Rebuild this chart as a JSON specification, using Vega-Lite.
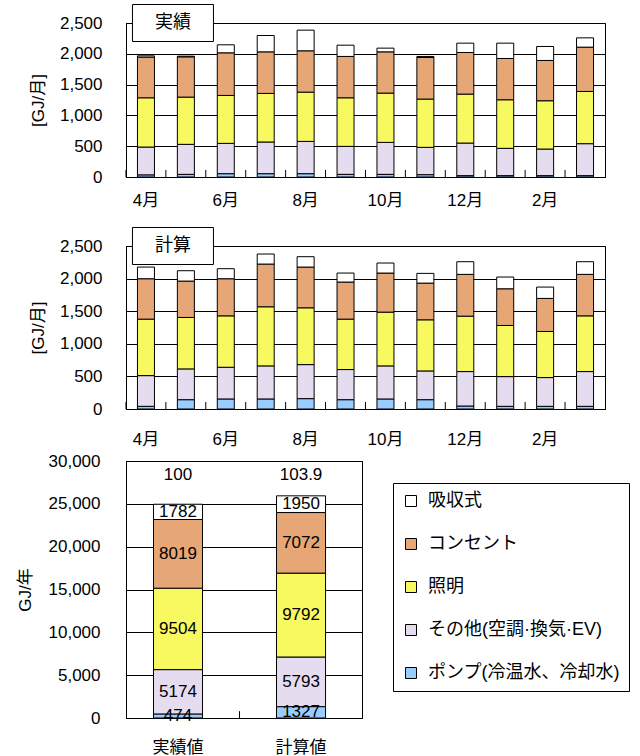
{
  "$schema": "https://vega.github.io/schema/vega-lite/v6.json",
  "padding": {"left": 15, "top": 1, "right": 0, "bottom": 0},
  "spacing": 3,
  "datasets": {
    "jisseki": [
      {"m": "4月", "ポンプ": 35, "その他": 451, "照明": 800, "コンセント": 660, "吸収式": 21},
      {"m": "5月", "ポンプ": 43, "その他": 487, "照明": 767, "コンセント": 654, "吸収式": 11},
      {"m": "6月", "ポンプ": 54, "その他": 492, "照明": 778, "コンセント": 692, "吸収式": 130},
      {"m": "7月", "ポンプ": 54, "その他": 514, "照明": 789, "コンセント": 675, "吸収式": 265},
      {"m": "8月", "ポンプ": 54, "その他": 524, "照明": 800, "コンセント": 671, "吸収式": 335},
      {"m": "9月", "ポンプ": 43, "その他": 454, "照明": 789, "コンセント": 671, "吸収式": 183},
      {"m": "10月", "ポンプ": 43, "その他": 519, "照明": 800, "コンセント": 670, "吸収式": 60},
      {"m": "11月", "ポンプ": 38, "その他": 443, "照明": 784, "コンセント": 675, "吸収式": 17},
      {"m": "12月", "ポンプ": 22, "その他": 529, "照明": 795, "コンセント": 675, "吸収式": 152},
      {"m": "1月", "ポンプ": 22, "その他": 443, "照明": 789, "コンセント": 670, "吸収式": 249},
      {"m": "2月", "ポンプ": 22, "その他": 432, "照明": 784, "コンセント": 654, "吸収式": 227},
      {"m": "3月", "ポンプ": 22, "その他": 519, "照明": 848, "コンセント": 719, "吸収式": 151}
    ],
    "keisan": [
      {"m": "4月", "ポンプ": 41, "その他": 471, "照明": 866, "コンセント": 620, "吸収式": 179},
      {"m": "5月", "ポンプ": 143, "その他": 472, "照明": 789, "コンセント": 558, "吸収式": 159},
      {"m": "6月", "ポンプ": 154, "その他": 486, "照明": 789, "コンセント": 569, "吸収式": 154},
      {"m": "7月", "ポンプ": 154, "その他": 507, "照明": 907, "コンセント": 655, "吸収式": 154},
      {"m": "8月", "ポンプ": 159, "その他": 522, "照明": 871, "コンセント": 625, "吸収式": 159},
      {"m": "9月", "ポンプ": 143, "その他": 462, "照明": 773, "コンセント": 569, "吸収式": 138},
      {"m": "10月", "ポンプ": 154, "その他": 507, "照明": 825, "コンセント": 599, "吸収式": 154},
      {"m": "11月", "ポンプ": 143, "その他": 441, "照明": 784, "コンセント": 563, "吸収式": 149},
      {"m": "12月", "ポンプ": 46, "その他": 528, "照明": 850, "コンセント": 641, "吸収式": 194},
      {"m": "1月", "ポンプ": 41, "その他": 456, "照明": 784, "コンセント": 563, "吸収式": 180},
      {"m": "2月", "ポンプ": 41, "その他": 441, "照明": 707, "コンセント": 507, "吸収式": 174},
      {"m": "3月", "ポンプ": 41, "その他": 533, "照明": 855, "コンセント": 636, "吸収式": 194}
    ],
    "annual": [
      {"g": "実績値", "idx": "100", "ポンプ": 474, "その他": 5174, "照明": 9504, "コンセント": 8019, "吸収式": 1782},
      {"g": "計算値", "idx": "103.9", "ポンプ": 1327, "その他": 5793, "照明": 9792, "コンセント": 7072, "吸収式": 1950}
    ]
  },
  "resolve": {"scale": {"color": "independent"}, "legend": {"color": "independent"}},
  "vconcat": [
    {
      "width": 479,
      "height": 154,
      "layer": [
        {
          "data": {"name": "jisseki"},
          "transform": [
            {"fold": ["ポンプ", "その他", "照明", "コンセント", "吸収式"], "as": ["cat", "v"]},
            {"calculate": "indexof(['ポンプ','その他','照明','コンセント','吸収式'], datum.cat)", "as": "k"}
          ],
          "mark": {"type": "bar", "stroke": "black", "strokeWidth": 1},
          "encoding": {
            "x": {"field": "m", "type": "nominal", "sort": null,
              "scale": {"paddingInner": 0.574, "paddingOuter": 0.287},
              "axis": {"title": " ", "titleFontSize": 8, "titlePadding": 4, "labelAngle": 0, "ticks": false, "labelPadding": 15,
                "labelExpr": "indexof(['4月','6月','8月','10月','12月','2月'], datum.value) >= 0 ? datum.value : ''"}},
            "y": {"field": "v", "type": "quantitative", "stack": "zero",
              "scale": {"domain": [0, 2500], "nice": false, "padding": 0},
              "axis": {"title": "[GJ/月]", "values": [0, 500, 1000, 1500, 2000, 2500], "tickCount": 6, "format": ",d", "labelOverlap": false, "ticks": false, "labelPadding": 24, "titlePadding": 12, "grid": true}},
            "color": {"field": "cat", "type": "nominal",
              "scale": {"domain": ["吸収式", "コンセント", "照明", "その他", "ポンプ"], "range": ["#ffffff", "#e6a675", "#f8f860", "#e6dcf0", "#99ccff"]},
              "legend": null},
            "order": {"field": "k", "type": "quantitative"}
          }
        },
        {
          "data": {"name": "jisseki"},
          "mark": {"type": "rule", "color": "black", "strokeWidth": 1, "xOffset": -11.5},
          "encoding": {
            "x": {"field": "m", "type": "nominal", "sort": null, "bandPosition": 0, "axis": {"title": " ", "titleFontSize": 8, "titlePadding": 4, "labelAngle": 0, "ticks": false, "labelPadding": 15,
                "labelExpr": "indexof(['4月','6月','8月','10月','12月','2月'], datum.value) >= 0 ? datum.value : ''"}},
            "y": {"datum": 0, "axis": {"title": "[GJ/月]", "values": [0, 500, 1000, 1500, 2000, 2500], "tickCount": 6, "format": ",d", "labelOverlap": false, "ticks": false, "labelPadding": 24, "titlePadding": 12, "grid": true}},
            "y2": {"datum": 114}
          }
        },
        {
          "data": {"values": [{"t": "実績"}]},
          "mark": {"type": "point", "shape": "M-1,-0.457L1,-0.457L1,0.457L-1,0.457Z", "size": 6561, "filled": true, "fill": "white", "stroke": "black", "strokeWidth": 1, "opacity": 1, "clip": false, "xOffset": 27},
          "encoding": {
            "x": {"datum": "4月", "axis": {"title": " ", "titleFontSize": 8, "titlePadding": 4, "labelAngle": 0, "ticks": false, "labelPadding": 15,
                "labelExpr": "indexof(['4月','6月','8月','10月','12月','2月'], datum.value) >= 0 ? datum.value : ''"}},
            "y": {"datum": 2500, "axis": {"title": "[GJ/月]", "values": [0, 500, 1000, 1500, 2000, 2500], "tickCount": 6, "format": ",d", "labelOverlap": false, "ticks": false, "labelPadding": 24, "titlePadding": 12, "grid": true}}
          }
        },
        {
          "data": {"values": [{"t": "実績"}]},
          "mark": {"type": "text", "fontSize": 18, "xOffset": 27, "color": "black"},
          "encoding": {
            "x": {"datum": "4月", "axis": {"title": " ", "titleFontSize": 8, "titlePadding": 4, "labelAngle": 0, "ticks": false, "labelPadding": 15,
                "labelExpr": "indexof(['4月','6月','8月','10月','12月','2月'], datum.value) >= 0 ? datum.value : ''"}},
            "y": {"datum": 2500, "axis": {"title": "[GJ/月]", "values": [0, 500, 1000, 1500, 2000, 2500], "tickCount": 6, "format": ",d", "labelOverlap": false, "ticks": false, "labelPadding": 24, "titlePadding": 12, "grid": true}},
            "text": {"field": "t"}
          }
        }
      ]
    },
    {
      "width": 479,
      "height": 163,
      "layer": [
        {
          "data": {"name": "keisan"},
          "transform": [
            {"fold": ["ポンプ", "その他", "照明", "コンセント", "吸収式"], "as": ["cat", "v"]},
            {"calculate": "indexof(['ポンプ','その他','照明','コンセント','吸収式'], datum.cat)", "as": "k"}
          ],
          "mark": {"type": "bar", "stroke": "black", "strokeWidth": 1},
          "encoding": {
            "x": {"field": "m", "type": "nominal", "sort": null,
              "scale": {"paddingInner": 0.574, "paddingOuter": 0.287},
              "axis": {"title": null, "labelAngle": 0, "ticks": false, "labelPadding": 22,
                "labelExpr": "indexof(['4月','6月','8月','10月','12月','2月'], datum.value) >= 0 ? datum.value : ''"}},
            "y": {"field": "v", "type": "quantitative", "stack": "zero",
              "scale": {"domain": [0, 2500], "nice": false, "padding": 0},
              "axis": {"title": "[GJ/月]", "values": [0, 500, 1000, 1500, 2000, 2500], "tickCount": 6, "format": ",d", "labelOverlap": false, "ticks": false, "labelPadding": 24, "titlePadding": 12, "grid": true}},
            "color": {"field": "cat", "type": "nominal",
              "scale": {"domain": ["吸収式", "コンセント", "照明", "その他", "ポンプ"], "range": ["#ffffff", "#e6a675", "#f8f860", "#e6dcf0", "#99ccff"]},
              "legend": null},
            "order": {"field": "k", "type": "quantitative"}
          }
        },
        {
          "data": {"name": "keisan"},
          "mark": {"type": "rule", "color": "black", "strokeWidth": 1, "xOffset": -11.5},
          "encoding": {
            "x": {"field": "m", "type": "nominal", "sort": null, "bandPosition": 0, "axis": {"title": null, "labelAngle": 0, "ticks": false, "labelPadding": 22,
                "labelExpr": "indexof(['4月','6月','8月','10月','12月','2月'], datum.value) >= 0 ? datum.value : ''"}},
            "y": {"datum": 0, "axis": {"title": "[GJ/月]", "values": [0, 500, 1000, 1500, 2000, 2500], "tickCount": 6, "format": ",d", "labelOverlap": false, "ticks": false, "labelPadding": 24, "titlePadding": 12, "grid": true}},
            "y2": {"datum": 107}
          }
        },
        {
          "data": {"values": [{"t": "計算"}]},
          "mark": {"type": "point", "shape": "M-1,-0.457L1,-0.457L1,0.457L-1,0.457Z", "size": 6561, "filled": true, "fill": "white", "stroke": "black", "strokeWidth": 1, "opacity": 1, "clip": false, "xOffset": 27},
          "encoding": {
            "x": {"datum": "4月", "axis": {"title": null, "labelAngle": 0, "ticks": false, "labelPadding": 22,
                "labelExpr": "indexof(['4月','6月','8月','10月','12月','2月'], datum.value) >= 0 ? datum.value : ''"}},
            "y": {"datum": 2500, "axis": {"title": "[GJ/月]", "values": [0, 500, 1000, 1500, 2000, 2500], "tickCount": 6, "format": ",d", "labelOverlap": false, "ticks": false, "labelPadding": 24, "titlePadding": 12, "grid": true}}
          }
        },
        {
          "data": {"values": [{"t": "計算"}]},
          "mark": {"type": "text", "fontSize": 18, "xOffset": 27, "color": "black"},
          "encoding": {
            "x": {"datum": "4月", "axis": {"title": null, "labelAngle": 0, "ticks": false, "labelPadding": 22,
                "labelExpr": "indexof(['4月','6月','8月','10月','12月','2月'], datum.value) >= 0 ? datum.value : ''"}},
            "y": {"datum": 2500, "axis": {"title": "[GJ/月]", "values": [0, 500, 1000, 1500, 2000, 2500], "tickCount": 6, "format": ",d", "labelOverlap": false, "ticks": false, "labelPadding": 24, "titlePadding": 12, "grid": true}},
            "text": {"field": "t"}
          }
        }
      ]
    },
    {
      "width": 236,
      "height": 257,
      "layer": [
        {
          "data": {"name": "annual"},
          "transform": [
            {"fold": ["ポンプ", "その他", "照明", "コンセント", "吸収式"], "as": ["cat", "v"]},
            {"calculate": "indexof(['ポンプ','その他','照明','コンセント','吸収式'], datum.cat)", "as": "k"}
          ],
          "mark": {"type": "bar", "stroke": "black", "strokeWidth": 1},
          "encoding": {
            "x": {"field": "g", "type": "nominal", "sort": null,
              "scale": {"paddingInner": 0.6016, "paddingOuter": 0.26, "align": 0.43},
              "axis": {"title": null, "labelAngle": 0, "ticks": false, "labelPadding": 21}},
            "y": {"field": "v", "type": "quantitative", "stack": "zero",
              "scale": {"domain": [0, 30000], "nice": false, "padding": 0},
              "axis": {"title": "GJ/年", "values": [0, 5000, 10000, 15000, 20000, 25000, 30000], "tickCount": 7, "format": ",d", "labelOverlap": false, "ticks": false, "labelPadding": 26, "titlePadding": 14, "grid": true}},
            "color": {"field": "cat", "type": "nominal",
              "scale": {"domain": ["吸収式", "コンセント", "照明", "その他", "ポンプ"], "range": ["#ffffff", "#e6a675", "#f8f860", "#e6dcf0", "#99ccff"]},
              "legend": {"orient": "none", "legendX": 267, "legendY": 22, "title": null, "symbolType": "square", "symbolSize": 121,
                "symbolStrokeColor": "black", "symbolStrokeWidth": 1, "symbolOpacity": 1, "labelFontSize": 18, "labelColor": "black",
                "rowPadding": 25, "padding": 9, "strokeColor": "black", "fillColor": "white", "labelLimit": 400, "labelOffset": 8,
                "labelExpr": "datum.label == 'ポンプ' ? 'ポンプ(冷温水、冷却水)' : datum.label == 'その他' ? 'その他(空調·換気·EV)' : datum.label"}},
            "order": {"field": "k", "type": "quantitative"}
          }
        },
        {
          "data": {"name": "annual"},
          "transform": [{"filter": "datum.g == '計算値'"}],
          "mark": {"type": "rule", "color": "black", "strokeWidth": 1, "xOffset": -37},
          "encoding": {
            "x": {"field": "g", "type": "nominal", "sort": null, "bandPosition": 0, "axis": {"title": null, "labelAngle": 0, "ticks": false, "labelPadding": 21}},
            "y": {"datum": 0, "axis": {"title": "GJ/年", "values": [0, 5000, 10000, 15000, 20000, 25000, 30000], "tickCount": 7, "format": ",d", "labelOverlap": false, "ticks": false, "labelPadding": 26, "titlePadding": 14, "grid": true}},
            "y2": {"datum": 800}
          }
        },
        {
          "data": {"name": "annual"},
          "transform": [
            {"fold": ["ポンプ", "その他", "照明", "コンセント", "吸収式"], "as": ["cat", "v"]},
            {"calculate": "indexof(['ポンプ','その他','照明','コンセント','吸収式'], datum.cat)", "as": "k"},
            {"stack": "v", "groupby": ["g"], "sort": [{"field": "k"}], "as": ["y0", "y1"]},
            {"calculate": "(datum.y0 + datum.y1) / 2", "as": "mid"}
          ],
          "mark": {"type": "text", "fontSize": 17, "color": "black"},
          "encoding": {
            "x": {"field": "g", "type": "nominal", "sort": null, "axis": {"title": null, "labelAngle": 0, "ticks": false, "labelPadding": 21}},
            "y": {"field": "mid", "type": "quantitative", "axis": {"title": "GJ/年", "values": [0, 5000, 10000, 15000, 20000, 25000, 30000], "tickCount": 7, "format": ",d", "labelOverlap": false, "ticks": false, "labelPadding": 26, "titlePadding": 14, "grid": true}},
            "text": {"field": "v", "type": "quantitative", "format": "d"}
          }
        },
        {
          "data": {"name": "annual"},
          "mark": {"type": "text", "fontSize": 17, "color": "black"},
          "encoding": {
            "x": {"field": "g", "type": "nominal", "sort": null, "axis": {"title": null, "labelAngle": 0, "ticks": false, "labelPadding": 21}},
            "y": {"datum": 28400, "axis": {"title": "GJ/年", "values": [0, 5000, 10000, 15000, 20000, 25000, 30000], "tickCount": 7, "format": ",d", "labelOverlap": false, "ticks": false, "labelPadding": 26, "titlePadding": 14, "grid": true}},
            "text": {"field": "idx"}
          }
        }
      ]
    }
  ],
  "config": {
    "font": "Liberation Sans, Noto Sans CJK JP",
    "view": {"stroke": "black", "strokeWidth": 1},
    "axis": {"labelFontSize": 17, "titleFontSize": 17, "titleFontWeight": "normal", "labelColor": "black", "titleColor": "black",
      "domainColor": "black", "gridColor": "black", "gridOpacity": 1, "tickColor": "black", "labelFont": "Liberation Sans, Noto Sans CJK JP", "titleFont": "Liberation Sans, Noto Sans CJK JP"},
    "text": {"font": "Liberation Sans, Noto Sans CJK JP"},
    "legend": {"labelFont": "Liberation Sans, Noto Sans CJK JP"}
  }
}
